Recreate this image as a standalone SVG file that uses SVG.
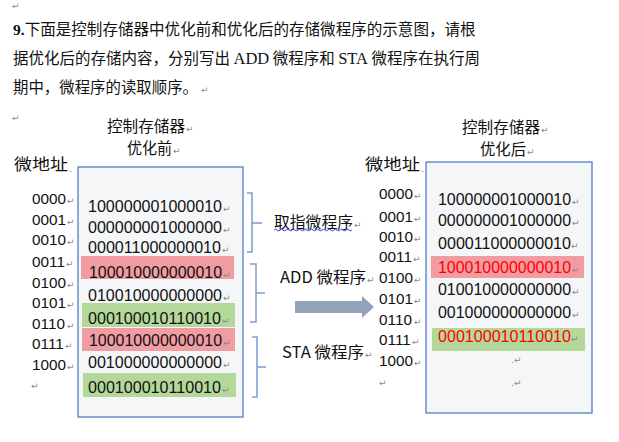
<svg xmlns="http://www.w3.org/2000/svg" width="619" height="442" viewBox="0 0 619 442">
<style>
.cjk{font-family:"Noto Sans CJK SC","Liberation Sans",sans-serif;font-size:15.5px;fill:#111}
.ttl{font-family:"Liberation Serif","Noto Sans CJK SC",serif;font-size:15.5px;fill:#111}
.bin{font-family:"Liberation Sans",Arial,sans-serif;font-size:16px;fill:#111}
.red{fill:#FF0000}
.adr{font-family:"Liberation Sans",Arial,sans-serif;font-size:15.3px;fill:#111}
.pm{font-family:"DejaVu Sans",sans-serif;font-size:9px;fill:#8a8a8a}
.box{fill:#F5F6F8;stroke:#4472C4;stroke-width:1.2}
.pink{fill:#F09CA2}
.green{fill:#B4D899}
.br{fill:none;stroke:#7C9CD6;stroke-width:1.5}
</style>
<rect width="619" height="442" fill="#fff"/>

<g id="question">
<text class="pm" x="12" y="9">↵</text>
<text class="ttl" x="13" y="35"><tspan font-weight="bold">9.</tspan><tspan class="cjk" font-family="Noto Sans CJK SC" textLength="451" lengthAdjust="spacingAndGlyphs">下面是控制存储器中优化前和优化后的存储微程序的示意图，请根</tspan></text>
<text class="cjk" x="13" y="64" textLength="467" lengthAdjust="spacingAndGlyphs">据优化后的存储内容，分别写出 <tspan font-family="Liberation Serif" font-size="16.5">ADD</tspan> 微程序和 <tspan font-family="Liberation Serif" font-size="16.5">STA</tspan> 微程序在执行周</text>
<text class="cjk" x="13" y="93" textLength="185" lengthAdjust="spacingAndGlyphs">期中，微程序的读取顺序。</text>
<text class="pm" x="201" y="93">↵</text>
<text class="pm" x="12" y="121">↵</text>
</g>

<g id="before">
<text class="cjk" x="107" y="131.5" textLength="78" lengthAdjust="spacingAndGlyphs">控制存储器</text><text class="pm" x="186" y="131.5">↵</text>
<text class="cjk" x="127" y="153.5" textLength="45" lengthAdjust="spacingAndGlyphs">优化前</text><text class="pm" x="173" y="153.5">↵</text>
<text class="cjk" x="14" y="169.5" font-size="18" textLength="54" lengthAdjust="spacingAndGlyphs">微地址</text><text class="pm" x="69" y="172" font-size="5">.</text>
<g id="addr-before">
<text class="adr" x="32" y="203.5">0000</text><text class="pm" x="67" y="203.5">↵</text>
<text class="adr" x="32" y="224.5">0001</text><text class="pm" x="67" y="224.5">↵</text>
<text class="adr" x="32" y="244.5">0010</text><text class="pm" x="67" y="244.5">↵</text>
<text class="adr" x="32" y="266.5">0011</text><text class="pm" x="66" y="266.5">↵</text>
<text class="adr" x="32" y="287.5">0100</text><text class="pm" x="67" y="287.5">↵</text>
<text class="adr" x="32" y="307.5">0101</text><text class="pm" x="67" y="307.5">↵</text>
<text class="adr" x="32" y="328.5">0110</text><text class="pm" x="67" y="328.5">↵</text>
<text class="adr" x="32" y="348.5">0111</text><text class="pm" x="65" y="348.5">↵</text>
<text class="adr" x="32" y="369.5">1000</text><text class="pm" x="67" y="369.5">↵</text>
<text class="pm" x="31" y="389">↵</text>
</g>
<g id="store-before">
<rect class="box" x="78" y="167" width="165" height="250"/>
<rect class="pink" x="81" y="256" width="153" height="23"/>
<rect class="green" x="82" y="303" width="153" height="24"/>
<rect class="pink" x="82" y="328" width="153" height="23"/>
<rect class="green" x="83" y="373" width="153" height="24"/>
<text class="bin" x="88" y="212" textLength="134" lengthAdjust="spacingAndGlyphs">100000001000010</text><text class="pm" x="223" y="212">↵</text>
<text class="bin" x="88" y="233" textLength="134" lengthAdjust="spacingAndGlyphs">000000001000000</text><text class="pm" x="223" y="233">↵</text>
<text class="bin" x="88" y="253" textLength="133" lengthAdjust="spacingAndGlyphs">000011000000010</text><text class="pm" x="222" y="253">↵</text>
<text class="bin" x="89" y="278" textLength="133" lengthAdjust="spacingAndGlyphs">100010000000010</text><text class="pm" x="223" y="278">↵</text>
<text class="bin" x="88" y="301" textLength="134" lengthAdjust="spacingAndGlyphs">010010000000000</text><text class="pm" x="223" y="301">↵</text>
<text class="bin" x="88" y="324" textLength="133" lengthAdjust="spacingAndGlyphs">000100010110010</text><text class="pm" x="222" y="324">↵</text>
<text class="bin" x="89" y="346" textLength="133" lengthAdjust="spacingAndGlyphs">100010000000010</text><text class="pm" x="223" y="346">↵</text>
<text class="bin" x="88" y="368" textLength="134" lengthAdjust="spacingAndGlyphs">001000000000000</text><text class="pm" x="223" y="368">↵</text>
<text class="bin" x="88" y="393" textLength="133" lengthAdjust="spacingAndGlyphs">000100010110010</text><text class="pm" x="222" y="393">↵</text>
</g>
</g>

<g id="labels">
<g id="fetch">
<path class="br" d="M247,193 H252 V252 H247 M252,223 H262"/>
<text class="cjk" x="274" y="227.5" textLength="79" lengthAdjust="spacingAndGlyphs">取指微程序</text><text class="pm" x="354" y="227.5">↵</text>
<path d="M274,230 q1.5,-1.6 3,0 t3,0 t3,0 t3,0 t3,0 t3,0 t3,0 t3,0 t3,0 t3,0 t3,0 t3,0 t3,0 t3,0 t3,0 t3,0 t3,0 t3,0 t3,0 t3,0 t3,0 t3,0 t3,0 t3,0 t3,0 t3,0" fill="none" stroke="#2B3FE0" stroke-width="1"/>
</g>
<g id="add">
<path class="br" d="M250,264 H256 V322 H250 M256,293 H265"/>
<text class="cjk" x="280" y="282.5" textLength="86" lengthAdjust="spacingAndGlyphs">ADD 微程序</text><text class="pm" x="367" y="282.5">↵</text>
</g>
<g id="sta">
<path class="br" d="M252,337 H257 V397 H252 M257,367 H266"/>
<text class="cjk" x="282" y="357.5" textLength="82" lengthAdjust="spacingAndGlyphs">STA 微程序</text><text class="pm" x="365" y="357.5">↵</text>
</g>
</g>

<g id="connectors">
<path d="M295,301 H362 V296 L374,307 L362,318 V313 H295 Z" fill="#93A3BB"/>
</g>

<g id="after">
<text class="cjk" x="462" y="132.5" textLength="78" lengthAdjust="spacingAndGlyphs">控制存储器</text><text class="pm" x="541" y="132.5">↵</text>
<text class="cjk" x="480" y="154.5" textLength="46" lengthAdjust="spacingAndGlyphs">优化后</text><text class="pm" x="527" y="154.5">↵</text>
<text class="cjk" x="365" y="169.5" font-size="18" textLength="55" lengthAdjust="spacingAndGlyphs">微地址</text><text class="pm" x="421" y="172" font-size="5">.</text>
<g id="addr-after">
<text class="adr" x="379" y="198.5">0000</text><text class="pm" x="414" y="198.5">↵</text>
<text class="adr" x="379" y="221.5">0001</text><text class="pm" x="414" y="221.5">↵</text>
<text class="adr" x="379" y="241.5">0010</text><text class="pm" x="414" y="241.5">↵</text>
<text class="adr" x="379" y="261.5">0011</text><text class="pm" x="413" y="261.5">↵</text>
<text class="adr" x="379" y="282.5">0100</text><text class="pm" x="414" y="282.5">↵</text>
<text class="adr" x="379" y="303.5">0101</text><text class="pm" x="414" y="303.5">↵</text>
<text class="adr" x="379" y="324.5">0110</text><text class="pm" x="414" y="324.5">↵</text>
<text class="adr" x="379" y="344.5">0111</text><text class="pm" x="412" y="344.5">↵</text>
<text class="adr" x="379" y="365.5">1000</text><text class="pm" x="414" y="365.5">↵</text>
<text class="pm" x="379" y="386">↵</text>
</g>
<g id="store-after">
<rect class="box" x="426" y="162" width="166" height="251"/>
<rect class="pink" x="431" y="256" width="153" height="22"/>
<rect class="green" x="432" y="328" width="153" height="23"/>
<text class="bin" x="438" y="205" textLength="133" lengthAdjust="spacingAndGlyphs">100000001000010</text><text class="pm" x="572" y="205">↵</text>
<text class="bin" x="438" y="226" textLength="133" lengthAdjust="spacingAndGlyphs">000000001000000</text><text class="pm" x="572" y="226">↵</text>
<text class="bin" x="438" y="249" textLength="133" lengthAdjust="spacingAndGlyphs">000011000000010</text><text class="pm" x="571" y="249">↵</text>
<text class="bin red" x="438" y="273" textLength="133" lengthAdjust="spacingAndGlyphs">100010000000010</text><text class="pm" x="572" y="273">↵</text>
<text class="bin" x="438" y="295" textLength="133" lengthAdjust="spacingAndGlyphs">010010000000000</text><text class="pm" x="572" y="295">↵</text>
<text class="bin" x="438" y="318" textLength="133" lengthAdjust="spacingAndGlyphs">001000000000000</text><text class="pm" x="572" y="318">↵</text>
<text class="bin red" x="438" y="342" textLength="133" lengthAdjust="spacingAndGlyphs">000100010110010</text><text class="pm" x="571" y="342">↵</text>
<text class="pm" x="511" y="363" font-size="6">.</text><text class="pm" x="514" y="363">↵</text>
<text class="pm" x="511" y="386" font-size="6">.</text><text class="pm" x="514" y="386">↵</text>
</g>
</g>
</svg>
